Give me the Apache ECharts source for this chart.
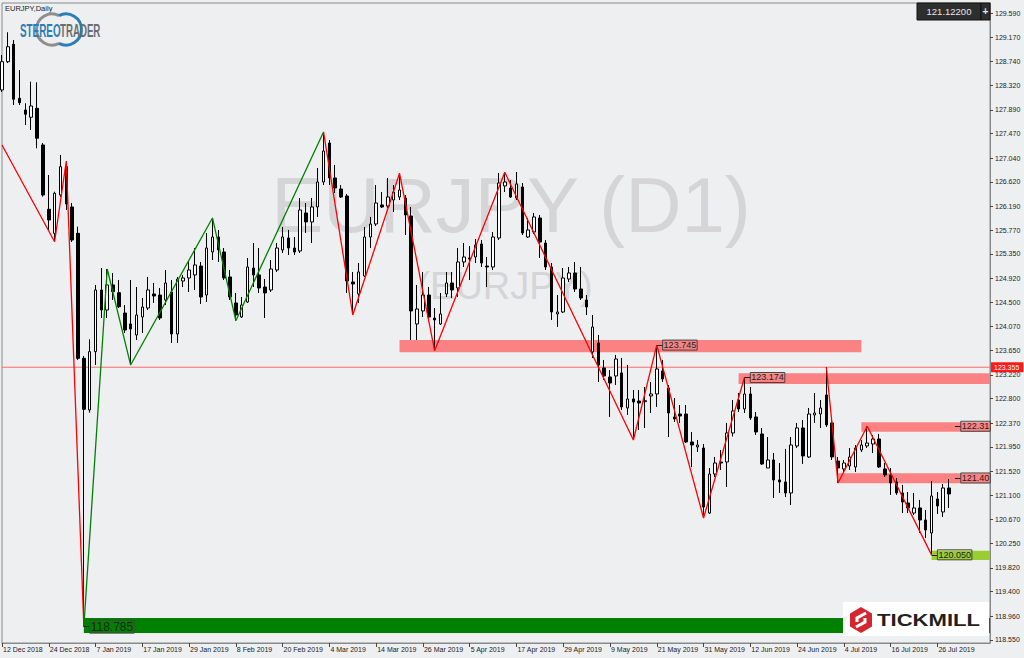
<!DOCTYPE html>
<html><head><meta charset="utf-8">
<script src="https://cdn.jsdelivr.net/npm/echarts@6/dist/echarts.min.js"></script>
<style>html,body{margin:0;padding:0;background:#eeeff1}#c{width:1024px;height:658px}</style>
</head><body><div id="c"></div>
<script>
// ---------- DATA ----------
const monthDays = [
  ['Dec 2018', [12,13,14,17,18,19,20,21,24,26,27,28,31]],
  ['Jan 2019', [2,3,4,7,8,9,10,11,14,15,16,17,18,21,22,23,24,25,28,29,30,31]],
  ['Feb 2019', [1,4,5,6,7,8,11,12,13,14,15,18,19,20,21,22,25,26,27,28]],
  ['Mar 2019', [1,4,5,6,7,8,11,12,13,14,15,18,19,20,21,22,25,26,27,28,29]],
  ['Apr 2019', [1,2,3,4,5,8,9,10,11,12,15,16,17,18,19,22,23,24,25,26,29,30]],
  ['May 2019', [1,2,3,6,7,8,9,10,13,14,15,16,17,20,21,22,23,24,27,28,29,30,31]],
  ['Jun 2019', [3,4,5,6,7,10,11,12,13,14,17,18,19,20,21,24,25,26,27,28]],
  ['Jul 2019', [1,2,3,4,5,8,9,10,11,12,15,16,17,18,19,22,23,24,25,26,29,30]]
];
const opens = [
128.239,128.737,129.044,128.092,127.886,127.758,127.916,127.270,126.137,125.714,
126.389,126.888,126.178,125.714,123.512,122.602,123.629,124.716,124.363,124.804,
124.668,124.310,124.117,123.923,124.240,124.398,124.645,124.627,124.539,124.680,
123.941,124.874,124.927,124.980,125.138,124.627,125.385,125.649,125.385,124.945,
124.487,124.240,124.504,125.103,124.980,124.768,124.716,125.068,125.420,125.632,
125.455,125.403,126.072,125.914,126.178,126.618,127.305,126.689,126.495,126.371,
124.857,124.645,124.962,125.649,125.878,126.213,126.195,126.301,126.354,126.336,
126.019,124.117,124.346,124.627,124.222,124.117,124.645,124.839,124.751,125.209,
125.279,125.297,125.526,125.138,125.121,125.632,126.548,126.512,126.336,126.530,
125.649,125.737,125.984,125.543,125.121,124.293,124.328,124.909,125.015,124.733,
124.539,123.624,123.782,123.342,123.183,123.201,123.254,122.637,122.796,122.760,
122.748,122.849,122.884,123.289,122.989,122.479,122.531,122.531,122.038,121.950,
121.932,120.787,121.474,121.686,121.686,122.197,122.778,122.620,122.884,122.479,
122.179,121.580,121.721,121.369,121.334,121.140,121.968,122.285,121.774,122.514,
122.531,122.866,122.373,121.703,121.563,121.616,121.598,121.897,121.968,122.003,
122.091,121.563,121.457,121.334,121.140,120.964,120.787,120.876,120.664,120.435,
121.034,120.805,121.228];
const closes = [
128.737,129.001,128.075,128.015,127.811,127.957,127.388,126.389,125.949,126.419,
126.888,126.231,125.596,123.512,122.614,123.629,124.716,124.363,124.804,124.686,
124.421,124.011,124.029,124.275,124.416,124.716,124.610,124.222,124.839,123.941,
124.909,124.927,125.068,125.156,124.592,125.455,125.649,125.420,124.927,124.592,
124.275,124.451,125.121,124.980,124.751,124.663,125.085,125.455,125.649,125.455,
125.385,126.125,125.914,126.178,126.618,127.164,126.689,126.512,126.354,124.874,
124.821,125.033,125.649,125.878,126.248,126.178,126.354,126.442,126.477,126.037,
124.346,124.381,124.627,124.240,124.187,124.293,124.839,124.716,125.209,125.297,
125.262,125.508,125.191,125.121,125.649,126.600,126.618,126.354,126.583,125.720,
125.773,126.002,125.561,125.121,124.328,124.328,124.927,125.015,124.733,124.575,
124.416,124.064,123.395,123.201,123.077,123.500,122.655,122.796,122.743,122.725,
122.765,122.884,123.324,123.148,122.549,122.443,122.496,122.038,121.985,121.985,
120.893,121.474,121.668,121.668,122.197,122.584,122.620,122.884,122.461,122.214,
121.651,121.721,121.369,121.334,121.140,121.985,122.285,121.792,122.531,122.549,
122.637,122.338,121.774,121.580,121.668,121.774,121.932,121.985,122.020,122.091,
121.598,121.457,121.316,121.140,120.981,120.876,120.876,120.664,120.488,121.087,
120.911,121.228,121.122];
const lows = [
128.203,128.714,127.974,127.974,127.622,127.534,127.212,126.359,125.773,125.566,
126.354,126.125,125.561,123.483,118.785,122.554,123.395,124.222,124.222,124.539,
124.398,123.958,123.395,123.835,123.958,124.363,124.487,124.187,124.451,123.782,
123.782,124.768,124.680,124.716,124.469,124.504,125.244,125.209,124.892,124.539,
124.175,124.222,124.487,124.768,124.663,124.222,124.680,125.033,125.367,125.332,
125.332,125.367,125.720,125.543,126.002,126.565,126.565,126.424,126.336,124.663,
124.275,124.487,124.945,125.455,125.843,126.160,126.160,126.090,126.301,125.684,
123.835,123.835,124.240,124.187,123.646,124.099,124.592,124.575,124.592,125.121,
124.892,125.191,125.121,124.768,125.068,125.596,126.442,126.336,126.301,125.684,
125.632,125.702,125.279,125.068,124.187,124.064,124.310,124.857,124.680,124.539,
124.275,123.518,123.095,123.130,122.479,123.042,122.602,122.514,122.073,122.249,
122.285,122.549,122.655,123.095,122.126,122.390,122.373,122.020,121.598,121.862,
120.699,120.770,121.421,121.545,121.245,122.135,122.567,122.549,122.426,122.162,
121.633,121.580,121.052,121.140,121.069,120.928,121.932,121.651,121.756,122.373,
122.285,122.303,121.721,121.316,121.510,121.545,121.510,121.862,121.932,121.844,
121.580,121.421,121.105,121.105,120.787,120.787,120.752,120.435,120.347,120.050,
120.770,120.717,120.876];
const highs = [
128.855,129.255,129.119,128.591,128.004,128.385,128.374,127.305,126.741,126.447,
127.094,126.988,126.248,125.831,123.553,123.848,124.804,125.103,125.085,125.015,
124.892,124.451,124.892,124.768,124.575,124.945,124.839,124.751,125.068,124.892,
124.945,124.980,125.209,125.455,125.209,125.720,125.984,125.773,125.455,125.068,
124.663,124.592,125.279,125.543,125.455,124.909,125.244,125.543,125.826,125.773,
125.649,126.336,126.248,126.336,126.865,127.499,127.358,126.918,126.565,126.407,
125.033,125.191,125.826,126.002,126.565,126.442,126.689,126.565,126.771,126.389,
126.178,124.804,125.033,124.768,124.398,124.663,125.033,125.033,125.455,125.543,
125.490,125.614,125.596,125.297,125.737,126.777,126.789,126.653,126.794,126.600,
125.984,126.072,126.037,125.596,125.191,124.627,125.103,125.121,125.209,125.121,
124.627,124.275,123.923,123.483,123.306,123.571,123.518,123.395,122.954,122.954,
123.007,123.095,123.745,123.483,123.042,122.813,122.690,122.690,122.214,122.073,
122.003,121.580,121.774,121.897,122.373,122.778,122.901,123.174,123.007,122.567,
122.285,122.126,121.844,121.668,121.915,122.126,122.373,122.426,122.637,122.901,
122.778,123.359,122.426,121.774,121.721,121.932,121.985,122.073,122.315,122.162,
122.179,121.668,121.580,121.404,121.281,121.157,121.140,121.017,120.840,121.351,
121.157,121.298,121.386];

// zigzag pivots: [bar index, price]
const zigRed1  = [[0,127.270],[9,125.566],[11,126.988],[14,118.785]];
const zigGreen = [[14,118.785],[18,125.085],[22,123.395],[36,125.984],[40,124.175],[55,127.499]];
const zigRed2  = [[55,127.499],[60,124.275],[68,126.771],[74,123.646],[86,126.789],[108,122.073],[112,123.745],[120,120.699],[127,123.174]];
const zigRed3  = [[141,123.359],[143,121.316],[148,122.315],[159,120.050]];

// support / resistance zones
const levelTexts = ['123.745','123.174','122.31','121.40','120.050','118.785'];
const levelPrices = [123.745,123.174,122.315,121.404,120.050,118.785];
const bandLow    = [123.618,123.060,122.219,121.311,119.960,118.674];
const bandHigh   = [123.835,123.248,122.385,121.487,120.123,118.938];
const bandStart  = [68,126,147,143,159,14];
const bandEnd    = [147,169,169,169,169,169];
const labelAnchor = [112,127,163,163,159,14];

const hLinePrice = 123.355;
const lastPriceText = '121.12200';

const tickLabels = ['118.550','118.960','119.400','119.820','120.250','120.670','121.100','121.520','121.950',
  '122.370','122.800','123.220','123.650','124.070','124.500','124.920','125.350','125.770','126.190',
  '126.620','127.040','127.470','127.890','128.320','128.740','129.170','129.590'];
const priceMin = 118.497, priceMax = 129.771;
const padBars = 7;

// ---------- BUILD ----------
const dates = [];
monthDays.forEach(([m, ds]) => ds.forEach(d => dates.push(d + ' ' + m)));
const categories = dates.concat(Array.from({length: padBars}, (_, i) => '_pad' + i));
const candleData = dates.map((_, i) => [opens[i], closes[i], lows[i], highs[i]]);
const tickValues = tickLabels.map(Number);
const lastCat = categories.length - 1;

const FONT = 'Liberation Sans';
const bandColors = ['#fa8282','#fa8282','#fa8282','#fa8282','#9acd32','#008000'];
const labelSizes = [9,9,9,9,9,12];

const chart = echarts.init(document.getElementById('c'), null, {renderer: 'svg', width: 1024, height: 658});

const showIdx = (i) => i < dates.length && i % 8 === 0;

const zig = (pts, color) => ({
  type: 'line', data: pts.map(p => [p[0], p[1]]), symbol: 'none', z: 4,
  lineStyle: {color: color, width: 1.3}, animation: false, silent: true
});

const option = {
  backgroundColor: '#eeeff1',
  animation: false,
  grid: {left: 2, right: 34, top: 3, bottom: 15, show: true, borderColor: '#8a8a8a', borderWidth: 1, containLabel: false},
  xAxis: {
    type: 'category', data: categories, boundaryGap: false,
    axisLine: {lineStyle: {color: '#8a8a8a'}},
    axisTick: {interval: showIdx, length: 4, lineStyle: {color: '#444'}},
    axisLabel: {interval: showIdx, align: 'left', margin: 3, fontSize: 7, color: '#222', fontFamily: FONT, padding: [0, 0, 0, 1]},
    splitLine: {show: false}
  },
  yAxis: {
    type: 'value', position: 'right', min: priceMin, max: priceMax,
    axisLine: {show: true, lineStyle: {color: '#8a8a8a'}},
    axisTick: {show: true, length: 3, customValues: tickValues, lineStyle: {color: '#444'}},
    axisLabel: {show: true, customValues: tickValues, fontSize: 7, color: '#222', margin: 5, fontFamily: FONT,
      formatter: (v) => Number(v).toFixed(3)},
    splitLine: {show: false}
  },
  series: [
    { // zones (background)
      type: 'line', data: [], z: 1, silent: true,
      markArea: {silent: true, data: levelPrices.map((_, i) => [
        {coord: [bandStart[i], bandLow[i]], itemStyle: {color: bandColors[i], opacity: 1}},
        {coord: [bandEnd[i], bandHigh[i]]}
      ])}
    },
    { // horizontal line at 123.355
      type: 'line', data: [[0, hLinePrice], [lastCat, hLinePrice]], z: 2, silent: true, symbol: 'none',
      lineStyle: {color: '#ff6a6a', width: 1, type: 'solid'},
      endLabel: {show: true, distance: 1, formatter: hLinePrice.toFixed(3),
        backgroundColor: '#ff1a1a', color: '#ffffff', fontSize: 7, fontFamily: FONT, padding: [2, 4, 1, 3]}
    },
    {
      type: 'candlestick', data: candleData, barWidth: 3, z: 3, clip: true,
      itemStyle: {color: '#ffffff', color0: '#000000', borderColor: '#000000', borderColor0: '#000000', borderWidth: 1}
    },
    zig(zigRed1, '#ff0000'),
    zig(zigGreen, '#008000'),
    zig(zigRed2, '#ff0000'),
    zig(zigRed3, '#ff0000'),
    { // level labels
      type: 'line', data: [], z: 5, silent: true, color: '#222',
      markLine: {
        silent: true, symbol: ['none', 'none'], animation: false,
        lineStyle: {color: '#222', width: 1, type: 'solid'},
        data: levelPrices.map((p, i) => [
          {coord: [labelAnchor[i], p],
           label: {show: true, position: 'end', distance: 0, formatter: levelTexts[i], color: '#222',
             fontSize: labelSizes[i], fontFamily: FONT, borderColor: '#444', borderWidth: 1, padding: [1, 1, 0, 1]}},
          {coord: [labelAnchor[i] + 1, p]}
        ])
      }
    }
  ],
  graphic: [
    {type: 'text', z: 0, style: {text: 'EURJPY (D1)', x: 511, y: 205, align: 'center', verticalAlign: 'middle', fontSize: 78, fontFamily: FONT, fill: '#d5d5d7'}},
    {type: 'text', z: 0, style: {text: '(EURJPY)', x: 505, y: 286, align: 'center', verticalAlign: 'middle', fontSize: 38, fontFamily: FONT, fill: '#d5d5d7'}},
    {type: 'text', z: 10, style: {text: 'EURJPY,Daily', x: 5, y: 8, verticalAlign: 'middle', fontSize: 7.5, fontFamily: FONT, fill: '#222'}},
    // StereoTrader logo
    {type: 'arc', z: 10, shape: {cx: 52, cy: 29.5, r: 15.5, startAngle: Math.PI * 0.35, endAngle: Math.PI * 1.65, clockwise: true}, style: {stroke: '#8c8e90', lineWidth: 3, fill: null}},
    {type: 'arc', z: 10, shape: {cx: 66, cy: 29.5, r: 15.5, startAngle: Math.PI * 1.35, endAngle: Math.PI * 2.65, clockwise: true}, style: {stroke: '#2b7db7', lineWidth: 3, fill: null}},
    {type: 'text', z: 11, x: 20, y: 30, scaleX: 0.52, style: {text: 'STEREO', x: 0, y: 0, verticalAlign: 'middle', fontSize: 19, fontWeight: 'bold', fontFamily: FONT, fill: '#2b7db7'}},
    {type: 'text', z: 11, x: 60, y: 30, scaleX: 0.51, style: {text: 'TRADER', x: 0, y: 0, verticalAlign: 'middle', fontSize: 19, fontWeight: 'bold', fontFamily: FONT, fill: '#6b6d70'}},
    // last price box
    {type: 'rect', z: 10, shape: {x: 917, y: 3, width: 64, height: 17}, style: {fill: '#2e2e2e', stroke: '#111', lineWidth: 1}},
    {type: 'text', z: 11, style: {text: lastPriceText, x: 949, y: 11.5, align: 'center', verticalAlign: 'middle', fontSize: 9.5, fontFamily: FONT, fill: '#e6e6e6'}},
    {type: 'rect', z: 10, shape: {x: 981, y: 3, width: 9, height: 17}, style: {fill: '#2e2e2e', stroke: '#111', lineWidth: 1}},
    {type: 'text', z: 11, style: {text: '+', x: 985.5, y: 11.5, align: 'center', verticalAlign: 'middle', fontSize: 10, fontWeight: 'bold', fontFamily: FONT, fill: '#e6e6e6'}},
    // Tickmill logo
    {type: 'rect', z: 10, shape: {x: 843, y: 602, width: 146, height: 34}, style: {fill: '#ffffff'}},
    {type: 'polygon', z: 11, shape: {points: [[861, 607], [872, 613.5], [872, 626.5], [861, 633], [850, 626.5], [850, 613.5]]}, style: {fill: '#d3262e'}},
    {type: 'polyline', z: 12, shape: {points: [[866, 613], [857, 618], [857, 622]]}, style: {stroke: '#ffffff', lineWidth: 3, fill: null}},
    {type: 'polyline', z: 12, shape: {points: [[856, 627], [865, 622], [865, 618]]}, style: {stroke: '#ffffff', lineWidth: 3, fill: null}},
    {type: 'text', z: 11, x: 877, y: 620, scaleX: 1.3, style: {text: 'TICKMILL', x: 0, y: 0, verticalAlign: 'middle', fontSize: 17, fontWeight: 'bold', fontFamily: FONT, fill: '#231f20'}}
  ]
};
chart.setOption(option);
</script>
</body></html>
